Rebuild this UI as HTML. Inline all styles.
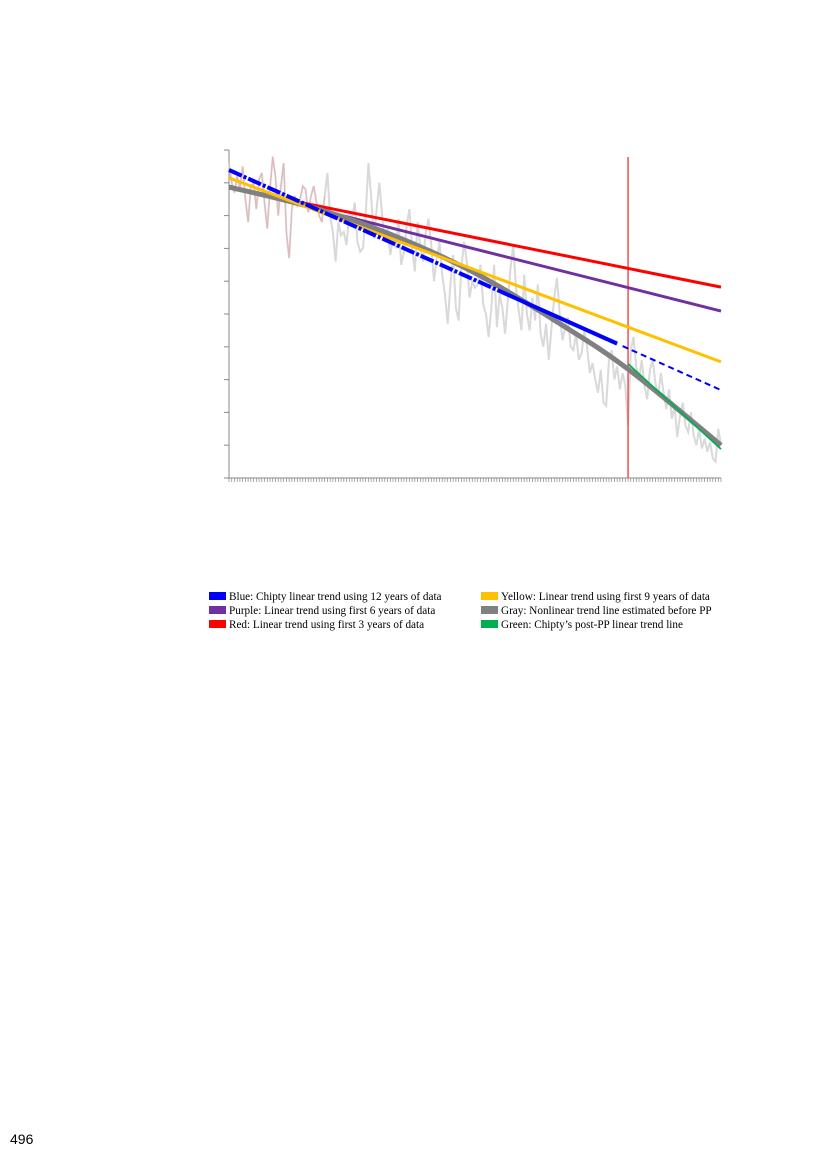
<!DOCTYPE html>
<html><head><meta charset="utf-8"><style>
body{margin:0;width:827px;height:1169px;background:#fff;position:relative;overflow:hidden;font-family:"Liberation Serif",serif}
#chart{position:absolute;left:0;top:0}
.leg{position:absolute;font-size:11.2px;color:#000;white-space:nowrap;line-height:14px}
.sw{display:inline-block;width:17px;height:8px;margin-right:3px;vertical-align:-0px}
#pg{position:absolute;left:10px;top:1131px;font:14px "Liberation Sans",sans-serif;color:#000}
</style></head><body>
<svg id="chart" width="827" height="580"></svg>
<div class="leg" style="left:209px;top:590px"><span class="sw" style="background:#0000ff"></span>Blue: Chipty linear trend using 12 years of data</div>
<div class="leg" style="left:209px;top:604px"><span class="sw" style="background:#7030a0"></span>Purple: Linear trend using first 6 years of data</div>
<div class="leg" style="left:209px;top:618px"><span class="sw" style="background:#ff0000"></span>Red: Linear trend using first 3 years of data</div>
<div class="leg" style="left:481px;top:590px"><span class="sw" style="background:#ffc000"></span>Yellow: Linear trend using first 9 years of data</div>
<div class="leg" style="left:481px;top:604px"><span class="sw" style="background:#808080"></span>Gray: Nonlinear trend line estimated before PP</div>
<div class="leg" style="left:481px;top:618px"><span class="sw" style="background:#00b050"></span>Green: Chipty’s post-PP linear trend line</div>
<div id="pg">496</div>
<script>
const series = [9.6,9.0,8.7,9.2,8.8,9.5,8.5,7.8,8.9,9.0,8.2,9.1,9.3,8.4,7.6,8.8,9.8,9.2,8.0,8.9,9.6,7.5,6.7,8.2,8.6,8.3,8.5,8.9,8.8,8.1,8.6,8.9,8.4,8.0,7.8,8.6,
9.3,8.0,7.5,6.6,7.8,7.4,7.5,7.1,8.1,7.9,8.4,7.2,6.9,7.0,8.0,9.6,8.6,7.3,8.2,9.0,8.0,7.2,7.6,6.8,7.3,7.0,7.9,6.5,6.9,7.7,8.2,7.0,6.3,7.8,7.0,6.6,
7.5,7.9,7.1,6.0,6.7,7.2,6.2,5.6,4.7,5.9,6.8,5.2,4.8,6.4,7.2,6.6,5.5,6.0,5.8,5.9,6.5,5.3,5.0,4.3,5.2,6.5,4.6,5.6,5.2,4.4,5.4,6.4,7.1,5.8,5.1,4.5,
6.2,5.0,4.5,5.5,4.8,5.9,4.4,4.0,4.7,3.6,4.6,5.5,6.1,5.0,4.2,4.6,4.9,4.0,3.9,4.4,3.6,3.8,4.5,4.0,3.2,3.5,3.0,2.6,3.3,2.3,2.2,3.6,3.9,3.0,3.4,2.7,
3.2,2.8,1.6,3.9,4.3,3.4,3.0,3.6,2.8,2.4,3.3,3.6,2.9,2.5,3.2,2.6,2.1,2.7,1.8,2.2,1.25,1.9,2.3,1.6,1.4,2.0,1.3,1.0,1.5,0.9,1.2,0.8,1.1,0.6,0.5,1.5,1.0];
const blueEnds = [9.39, 2.68];
const redEnds = [8.84, 5.82];
const purpleEnds = [8.87, 5.09];
const yellowEnds = [9.15, 3.54];
const grayMonths = [0, 30, 60, 90, 120, 146, 180];
const grayValues = [8.87, 8.26, 7.4, 6.25, 4.76, 3.32, 1.0];
const greenEnds = [3.48, 0.88];
const ppMonth = 146;
const blueSolidEnd = 142;
const blueDashDotEnd = 100;
const yTicks = [0,1,2,3,4,5,6,7,8,9,10];

const NS = "http://www.w3.org/2000/svg";
const svg = document.getElementById('chart');
const X0 = 229, X1 = 721, Y0 = 478, Y1 = 150, NM = 180, YMAX = 10;
const sx = m => X0 + (X1 - X0) * m / NM;
const sy = v => Y0 - (Y0 - Y1) * v / YMAX;
function mk(tag, attrs){const e=document.createElementNS(NS,tag);for(const k in attrs)e.setAttribute(k,attrs[k]);svg.appendChild(e);return e;}
const lin = (ends, m) => ends[0] + (ends[1]-ends[0]) * m / NM;

// axes
let e = mk('line',{x1:X0,y1:Y1,x2:X0,y2:Y0,stroke:'#888','stroke-width':1});


e = mk('line',{x1:X0,y1:Y0,x2:X1,y2:Y0,stroke:'#888','stroke-width':1});


yTicks.forEach(t=>{
  const l = mk('line',{x1:X0-5,y1:sy(t),x2:X0,y2:sy(t),stroke:'#888','stroke-width':1});
  
  
});
for(let m=0;m<=NM;m++){
  const l = mk('line',{x1:sx(m),y1:Y0,x2:sx(m),y2:Y0+4,stroke:'#888','stroke-width':0.7});
  
  
}
// data series
const pts = series.map((v,i)=>sx(i)+','+sy(v));
e = mk('polyline',{points:pts.join(' '),fill:'none',stroke:'#d9d9d9','stroke-width':2});


e = mk('polyline',{points:pts.slice(0,36).join(' '),fill:'none',stroke:'#e3b4b8','stroke-width':1});


// PP vertical
e = mk('line',{x1:sx(ppMonth),y1:157,x2:sx(ppMonth),y2:Y0,stroke:'#f05050','stroke-width':1.5});


// trend lines
function trend(ends,m0,m1,color,w,dash,name){
  const l = mk('line',{x1:sx(m0),y1:sy(lin(ends,m0)),x2:sx(m1),y2:sy(lin(ends,m1)),stroke:color,'stroke-width':w});
  if(dash) l.setAttribute('stroke-dasharray',dash);
  
  
}
trend(redEnds,0,NM,'#ff0000',3,null,'red-trend-line');
trend(purpleEnds,0,NM,'#7030a0',3,null,'purple-trend-line');
// gray curve
const gp = grayMonths.map((m,i)=>[sx(m),sy(grayValues[i])]);
let d = 'M'+gp[0][0]+','+gp[0][1];
for(let i=0;i<gp.length-1;i++){
  const p0=gp[Math.max(0,i-1)],p1=gp[i],p2=gp[i+1],p3=gp[Math.min(gp.length-1,i+2)];
  d+=' C'+(p1[0]+(p2[0]-p0[0])/6)+','+(p1[1]+(p2[1]-p0[1])/6)+' '+(p2[0]-(p3[0]-p1[0])/6)+','+(p2[1]-(p3[1]-p1[1])/6)+' '+p2[0]+','+p2[1];
}
e = mk('path',{d:d,fill:'none',stroke:'#808080','stroke-width':5});


trend(yellowEnds,0,NM,'#ffc000',3,null,'yellow-trend-line');
trend(blueEnds,0,blueDashDotEnd,'#0000ff',4,'14,2,3,2','blue-trend-dashdot');
trend(blueEnds,blueDashDotEnd,blueSolidEnd,'#0000ff',4,null,'blue-trend-solid');
trend(blueEnds,blueSolidEnd+2,NM,'#0000ff',2,'6,4','blue-trend-projection');
// green
e = mk('line',{x1:sx(ppMonth),y1:sy(greenEnds[0]),x2:sx(NM),y2:sy(greenEnds[1]),stroke:'#00b050','stroke-width':1.8});


</script>
</body></html>
